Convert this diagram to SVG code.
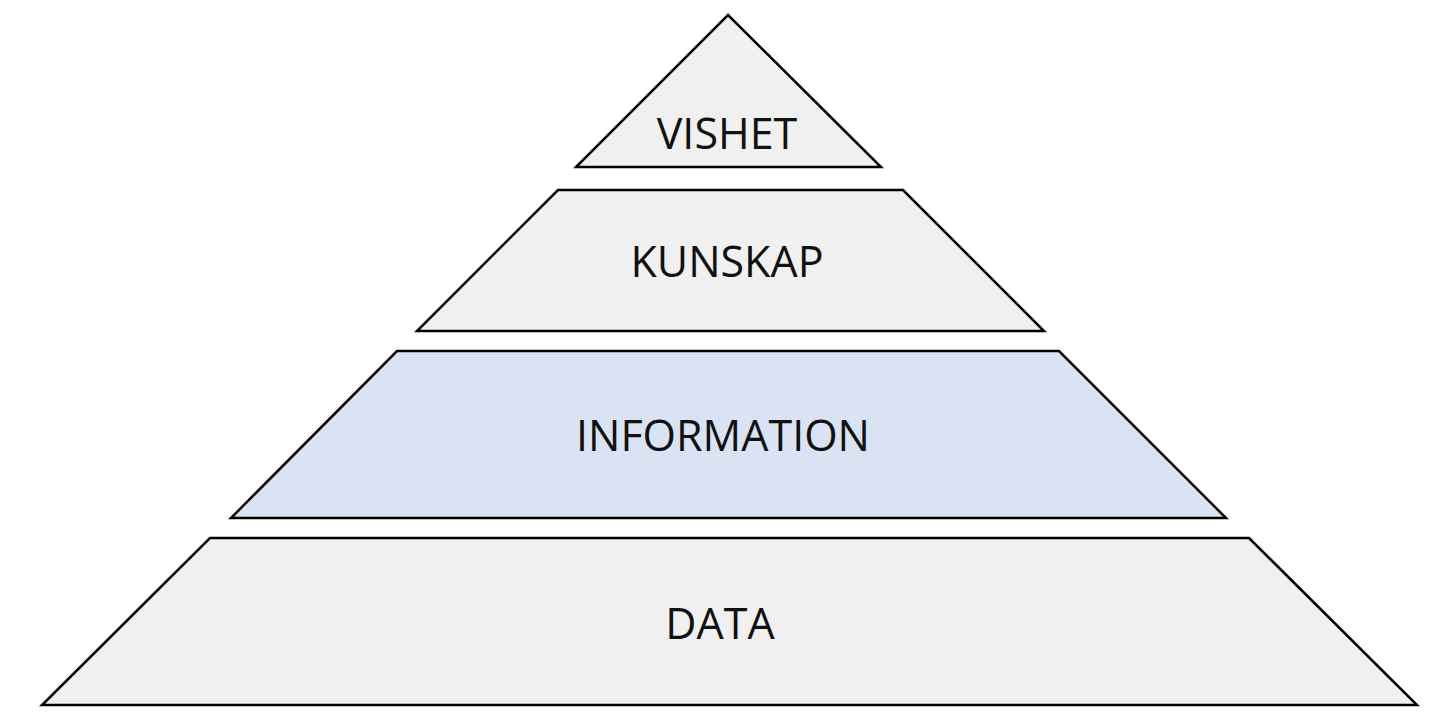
<svg xmlns="http://www.w3.org/2000/svg" width="1455" height="720" viewBox="0 0 1455 720">
<style>
.s{fill:#f0f0f0;stroke:#000;stroke-width:2.5;stroke-linejoin:miter}
.b{fill:#dae3f3}
text{font-family:"Open Sans","Liberation Sans",sans-serif;font-size:43px;fill:#111;text-anchor:middle}
</style>
<rect width="1455" height="720" fill="#fff"/>
<g id="vishet"><polygon class="s" points="728,15 881,167 576,167"/><text x="727" y="149">VISHET</text></g>
<g id="kunskap"><polygon class="s" points="558,190 903,190 1044,331 417,331"/><text x="727" y="277">KUNSKAP</text></g>
<g id="information"><polygon class="s b" points="397,351 1059,351 1226,518 231,518"/><text x="723" y="451">INFORMATION</text></g>
<g id="data"><polygon class="s" points="210,538 1249,538 1417,705 42,705"/><text x="720" y="639">DATA</text></g>
<g id="connectors"/>
</svg>
